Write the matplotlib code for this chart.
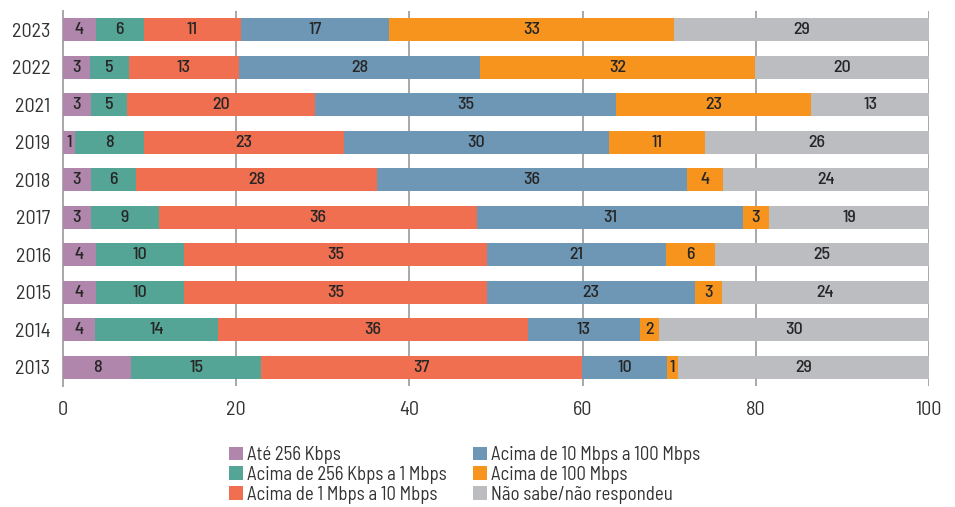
import matplotlib
matplotlib.use("Agg")
import matplotlib.pyplot as plt
from matplotlib.patches import Patch
import numpy as np

years = ["2023", "2022", "2021", "2019", "2018", "2017", "2016", "2015", "2014", "2013"]
series_names = [
    "Até 256 Kbps",
    "Acima de 256 Kbps a 1 Mbps",
    "Acima de 1 Mbps a 10 Mbps",
    "Acima de 10 Mbps a 100 Mbps",
    "Acima de 100 Mbps",
    "Não sabe/não respondeu",
]
colors = ["#B086AC", "#55A596", "#F06F51", "#6E97B5", "#F7941E", "#BCBDC1"]

# bar widths, one list per series, in order of years
ate_256k = [3.8, 3.1, 3.2, 1.35, 3.2, 3.2, 3.8, 3.8, 3.7, 7.9]
k256_1m = [5.5, 4.5, 4.2, 7.96, 5.2, 7.85, 10.15, 10.15, 14.15, 15.0]
m1_10m = [11.2, 12.7, 21.7, 23.1, 27.9, 36.75, 35.0, 35.0, 35.8, 37.0]
m10_100m = [17.2, 27.9, 34.7, 30.6, 35.7, 30.7, 20.7, 24.0, 13.0, 9.9]
m100 = [32.8, 31.7, 22.6, 11.1, 4.2, 3.0, 5.6, 3.1, 2.2, 1.2]
nao_sabe = [29.5, 20.1, 13.6, 25.9, 23.8, 18.5, 24.8, 24.0, 31.1, 29.0]

# printed labels
lab_ate_256k = [4, 3, 3, 1, 3, 3, 4, 4, 4, 8]
lab_k256_1m = [6, 5, 5, 8, 6, 9, 10, 10, 14, 15]
lab_m1_10m = [11, 13, 20, 23, 28, 36, 35, 35, 36, 37]
lab_m10_100m = [17, 28, 35, 30, 36, 31, 21, 23, 13, 10]
lab_m100 = [33, 32, 23, 11, 4, 3, 6, 3, 2, 1]
lab_nao_sabe = [29, 20, 13, 26, 24, 19, 25, 24, 30, 29]

xticks = [0, 20, 40, 60, 80, 100]

series = [ate_256k, k256_1m, m1_10m, m10_100m, m100, nao_sabe]
labels = [lab_ate_256k, lab_k256_1m, lab_m1_10m, lab_m10_100m, lab_m100, lab_nao_sabe]

FAM = ["Barlow Semi Condensed", "DejaVu Sans"]
plt.rcParams["font.family"] = FAM

fig = plt.figure(figsize=(9.55, 5.07), dpi=100)
ax = fig.add_axes([63/955, 1-386/507, (929-63)/955, (386-11)/507])

y = np.arange(len(years))
left = np.zeros(len(years))
for vals, labs, col in zip(series, labels, colors):
    bars = ax.barh(y, vals, left=left, height=0.61, color=col, zorder=3)
    ax.bar_label(bars, labels=[str(v) for v in labs], label_type="center",
                 fontsize=13, color="#262626", fontweight="medium")
    left = left + np.array(vals)

ax.set_ylim(len(years) - 0.5, -0.5)
ax.set_xlim(0, 100)
ax.set_yticks(y)
ax.set_yticklabels(years, fontsize=14.5, color="#333333")
ax.set_xticks(xticks)
ax.set_xticklabels([str(t) for t in xticks], fontsize=14.5, color="#333333")
ax.tick_params(axis="both", length=0)
ax.tick_params(axis="y", pad=9)
ax.tick_params(axis="x", pad=11)
ax.xaxis.grid(True, color="#A8A8A8", linewidth=1.4, zorder=0)
for s in ["top", "right", "bottom"]:
    ax.spines[s].set_visible(False)
ax.spines["left"].set_color("#A8A8A8")
ax.spines["left"].set_linewidth(1.4)
ax.set_axisbelow(True)

handles = [Patch(facecolor=c, edgecolor="none") for c in colors]
leg_kw = dict(frameon=False, prop=dict(size=13.5), labelcolor="#333333",
              handlelength=0.75, handleheight=0.75, handletextpad=0.2,
              labelspacing=0.1, borderpad=0, borderaxespad=0, loc="upper left")
l1 = fig.legend(handles[:3], series_names[:3], bbox_to_anchor=(229/955, 1-446/507), **leg_kw)
l2 = fig.legend(handles[3:], series_names[3:], bbox_to_anchor=(473/955, 1-446/507), **leg_kw)

fig.savefig("out.png", dpi=100)
